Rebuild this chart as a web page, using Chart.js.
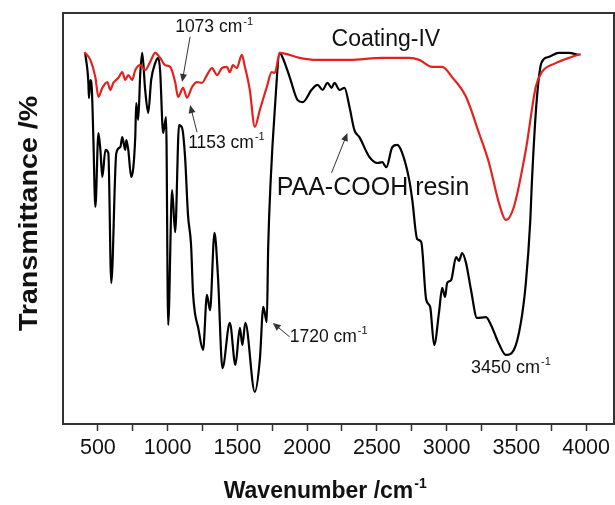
<!DOCTYPE html>
<html>
<head>
<meta charset="utf-8">
<script src="https://cdn.jsdelivr.net/npm/chart.js@4"></script>
<style>
  html, body { margin: 0; background: #fff; }
  #wrap { width: 615px; height: 505px; }
</style>
</head>
<body>
<div id="wrap"><canvas id="ftir"></canvas></div>
<script>
// FTIR spectra: wavenumber (cm-1) vs transmittance (arbitrary %, offset)
const wnCoating = [404, 446, 482, 504, 532, 568, 589, 611, 646, 675, 696, 718, 746, 768, 804, 839, 875, 911, 946, 982,
  1018, 1054, 1075, 1111, 1139, 1175, 1211, 1246, 1282, 1318, 1354, 1389, 1425, 1446, 1468, 1496, 1532, 1554, 1589, 1625,
  1661, 1711, 1746, 1768, 1804, 1946, 2068, 2304, 2539, 2732, 2804, 2896, 2968, 3039, 3139, 3232, 3304, 3375, 3425, 3482,
  3568, 3639, 3682, 3782, 3896, 3961];
const tCoating = [90.5, 88.6, 84.4, 79.6, 81.8, 83.2, 81.3, 83.0, 84.2, 85.6, 83.7, 84.9, 83.7, 86.1, 87.3, 86.1, 88.1, 90.3, 89.1, 87.3,
  86.9, 83.2, 79.6, 81.8, 79.4, 82.0, 83.2, 83.0, 84.9, 86.6, 84.9, 86.6, 86.9, 85.6, 87.3, 86.6, 89.8, 86.9, 81.3, 72.3,
  76.4, 82.0, 85.6, 85.4, 90.3, 89.1, 88.6, 88.6, 89.1, 89.1, 88.6, 86.9, 86.9, 84.4, 79.6, 70.8, 63.5, 53.8, 49.6, 52.8,
  66.7, 82.0, 85.6, 87.8, 89.3, 90.0];

const wnResin = [409, 432, 436, 446, 457, 468, 482, 504, 518, 532, 554, 575, 596, 632, 661, 675, 696, 704, 718, 739,
  768, 775, 789, 804, 818, 839, 861, 882, 911, 932, 946, 968, 989, 1004, 1032, 1054, 1082, 1104, 1125, 1146,
  1168, 1182, 1196, 1218, 1254, 1282, 1304, 1336, 1361, 1393, 1446, 1486, 1518, 1536, 1557, 1625, 1661, 1686, 1711, 1721,
  1739, 1768, 1804, 1825, 1875, 1932, 1968, 2032, 2075, 2111, 2146, 2175, 2196, 2232, 2268, 2304, 2339, 2375, 2446, 2504,
  2539, 2568, 2611, 2646, 2682, 2732, 2754, 2789, 2818, 2854, 2882, 2911, 2946, 2968, 2989, 3004, 3032, 3068, 3089, 3111,
  3139, 3175, 3218, 3282, 3318, 3375, 3425, 3482, 3532, 3568, 3600, 3611, 3646, 3682, 3732, 3804, 3875, 3946];
const tResin = [90.3, 83.0, 79.3, 83.7, 81.3, 69.1, 52.8, 70.8, 66.7, 60.1, 66.7, 65.9, 34.3, 65.9, 67.4, 69.8, 66.7, 69.1, 66.7, 60.1,
  69.8, 78.1, 74.0, 85.4, 90.3, 81.3, 75.7, 83.7, 87.8, 89.1, 86.1, 70.8, 74.7, 24.1, 56.9, 46.7, 72.7, 72.0, 65.0, 50.9,
  43.6, 31.9, 27.0, 23.6, 18.0, 31.4, 27.7, 46.5, 35.8, 13.6, 24.6, 14.4, 23.4, 19.2, 24.6, 7.8, 15.6, 28.5, 24.8, 43.1,
  59.4, 76.4, 90.3, 89.1, 84.4, 78.8, 78.3, 81.3, 82.5, 81.3, 83.0, 81.8, 83.0, 81.3, 81.8, 77.1, 71.5, 69.8, 65.0, 63.5,
  63.7, 62.5, 67.4, 67.9, 65.9, 59.4, 54.5, 45.0, 44.3, 30.2, 28.5, 19.2, 27.3, 33.1, 30.9, 34.3, 35.0, 40.6, 39.7, 41.6,
  39.2, 32.6, 25.8, 26.0, 24.1, 19.5, 16.8, 18.0, 24.6, 34.3, 49.6, 58.6, 78.8, 88.1, 89.3, 90.3, 90.3, 89.8];

const majorTicks = [500, 1000, 1500, 2000, 2500, 3000, 3500, 4000];
const minorTicks = [750, 1250, 1750, 2250, 2750, 3250, 3750];

// peak labels, placed in data units; arrow = [fromX, fromY, tipX, tipY]
const peakLabels = [
  { text: '1073 cm', x: 1054, y: 95.4, size: 17.5, arrow: [1161, 94.2, 1104, 83.2] },
  { text: '1153 cm', x: 1147, y: 67.2, size: 17.5, arrow: [1211, 71.0, 1161, 77.6] },
  { text: '1720 cm', x: 1875, y: 20.0, size: 17.5, arrow: [1875, 21.2, 1754, 24.6] },
  { text: '3450 cm', x: 3175, y: 12.4, size: 18 }
];
const seriesLabels = [
  { text: 'Coating-IV', x: 2175, y: 92.0, size: 23 },
  { text: 'PAA-COOH resin', x: 1782, y: 55.7, size: 25, arrow: [2175, 61.1, 2289, 70.8] }
];

const FONT = "Arial, 'Liberation Sans', Helvetica, sans-serif";

function toPoints(xs, ys) {
  return xs.map((x, i) => ({ x: x, y: ys[i] }));
}

function drawArrow(ctx, x1, y1, x2, y2) {
  const ang = Math.atan2(y2 - y1, x2 - x1);
  ctx.strokeStyle = '#333';
  ctx.fillStyle = '#333';
  ctx.lineWidth = 1;
  ctx.beginPath();
  ctx.moveTo(x1, y1);
  ctx.lineTo(x2 - 6 * Math.cos(ang), y2 - 6 * Math.sin(ang));
  ctx.stroke();
  ctx.beginPath();
  ctx.moveTo(x2, y2);
  ctx.lineTo(x2 - 8 * Math.cos(ang) + 3.5 * Math.sin(ang), y2 - 8 * Math.sin(ang) - 3.5 * Math.cos(ang));
  ctx.lineTo(x2 - 8 * Math.cos(ang) - 3.5 * Math.sin(ang), y2 - 8 * Math.sin(ang) + 3.5 * Math.cos(ang));
  ctx.closePath();
  ctx.fill();
}

// text followed by a raised "-1"
function drawWithSup(ctx, text, x, y, size, weight) {
  ctx.font = weight + ' ' + size + 'px ' + FONT;
  ctx.fillText(text, x, y);
  const w = ctx.measureText(text).width;
  const sup = Math.round(size * 0.62);
  ctx.font = weight + ' ' + sup + 'px ' + FONT;
  ctx.fillText('-1', x + w + 1, y - size * 0.42);
  return w + ctx.measureText('-1').width + 1;
}

const framePlugin = {
  id: 'frame',
  afterDraw(chart) {
    const { ctx, chartArea: a, scales: { x, y } } = chart;
    ctx.save();

    // box around the plot
    ctx.strokeStyle = '#333';
    ctx.lineWidth = 2;
    ctx.strokeRect(a.left, a.top, a.right - a.left, a.bottom - a.top);

    ctx.fillStyle = '#111';
    ctx.textAlign = 'left';
    ctx.textBaseline = 'alphabetic';

    peakLabels.forEach(p => {
      ctx.fillStyle = '#111';
      drawWithSup(ctx, p.text, x.getPixelForValue(p.x), y.getPixelForValue(p.y), p.size, 'normal');
      if (p.arrow) {
        drawArrow(ctx, x.getPixelForValue(p.arrow[0]), y.getPixelForValue(p.arrow[1]),
          x.getPixelForValue(p.arrow[2]), y.getPixelForValue(p.arrow[3]));
      }
    });

    seriesLabels.forEach(s => {
      ctx.fillStyle = '#111';
      ctx.font = s.size + 'px ' + FONT;
      ctx.fillText(s.text, x.getPixelForValue(s.x), y.getPixelForValue(s.y));
      if (s.arrow) {
        drawArrow(ctx, x.getPixelForValue(s.arrow[0]), y.getPixelForValue(s.arrow[1]),
          x.getPixelForValue(s.arrow[2]), y.getPixelForValue(s.arrow[3]));
      }
    });

    // axis titles
    ctx.fillStyle = '#111';
    ctx.font = 'bold 23px ' + FONT;
    const xt = 'Wavenumber /cm';
    const total = ctx.measureText(xt).width + 17;
    const cx = a.left + 264;
    drawWithSup(ctx, xt, cx - total / 2, 498, 23, 'bold');

    ctx.translate(37, (a.top + a.bottom) / 2 - 5);
    ctx.rotate(-Math.PI / 2);
    ctx.scale(1.1, 1);
    ctx.textAlign = 'center';
    ctx.font = 'bold 26px ' + FONT;
    ctx.fillText('Transmittance /%', 0, 0);

    ctx.restore();
  }
};

new Chart(document.getElementById('ftir'), {
  type: 'line',
  data: {
    datasets: [
      {
        label: 'Coating-IV',
        data: toPoints(wnCoating, tCoating),
        borderColor: '#e3221f',
        borderWidth: 2.2,
        pointRadius: 0,
        cubicInterpolationMode: 'monotone'
      },
      {
        label: 'PAA-COOH resin',
        data: toPoints(wnResin, tResin),
        borderColor: '#000',
        borderWidth: 2.2,
        pointRadius: 0,
        cubicInterpolationMode: 'monotone'
      }
    ]
  },
  options: {
    responsive: true,
    maintainAspectRatio: false,
    animation: false,
    devicePixelRatio: 1,
    layout: { padding: { left: 63, top: 13, right: 1, bottom: 0 } },
    plugins: { legend: { display: false }, tooltip: { enabled: false } },
    scales: {
      x: {
        type: 'linear',
        min: 250,
        max: 4200,
        afterBuildTicks: scale => {
          scale.ticks = majorTicks.concat(minorTicks).sort((a, b) => a - b).map(v => ({ value: v }));
        },
        afterFit: scale => { scale.height = 81; },
        border: { display: false },
        grid: { drawOnChartArea: false, drawTicks: true, tickLength: 7, tickColor: '#333', tickWidth: 1.5 },
        ticks: {
          autoSkip: false,
          maxRotation: 0,
          padding: 4,
          color: '#111',
          font: { family: FONT, size: 21.5 },
          callback: v => majorTicks.includes(v) ? String(v) : ''
        }
      },
      y: { display: false, min: 0, max: 100 }
    }
  },
  plugins: [framePlugin]
});
</script>
</body>
</html>
